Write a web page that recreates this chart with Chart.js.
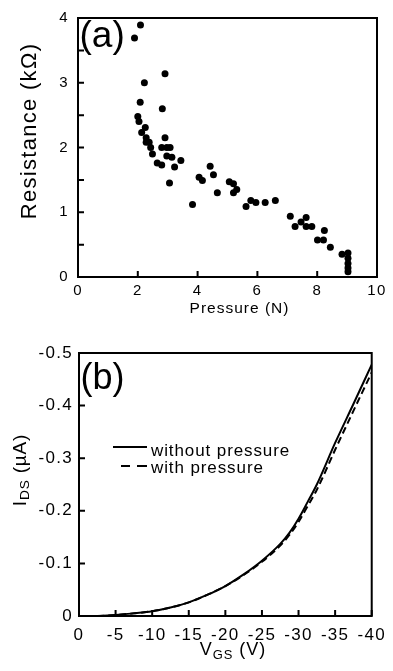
<!DOCTYPE html>
<html><head><meta charset="utf-8">
<script src="https://cdn.jsdelivr.net/npm/chart.js@4.4.1/dist/chart.umd.min.js"></script>
<style>
html,body{margin:0;padding:0;background:#fff;width:393px;height:671px;overflow:hidden;font-family:"Liberation Sans",Arial,Helvetica,sans-serif;color:#000}
.box{position:absolute;left:0;width:393px}
.lbl{position:absolute;white-space:nowrap;line-height:1;color:#000}
.rot{transform:translate(-50%,-50%) rotate(-90deg)}
sub{font-size:0.72em;vertical-align:-0.28em;line-height:0}
</style></head><body>
<div class="box" style="top:0;height:320px"><canvas id="ca"></canvas></div>
<div class="box" style="top:320px;height:351px"><canvas id="cb"></canvas></div>

<div class="lbl" style="left:79.5px;top:16px;font-size:37px">(a)</div>
<div class="lbl rot" style="left:29px;top:131px;font-size:22px;letter-spacing:1.3px">Resistance (kΩ)</div>
<div class="lbl" style="left:239.5px;top:299.5px;font-size:15.5px;letter-spacing:1px;transform:translateX(-50%)">Pressure (N)</div>

<div class="lbl" style="left:80.5px;top:359px;font-size:36px">(b)</div>
<div class="lbl rot" style="left:19px;top:470px;font-size:19px;letter-spacing:0.8px">I<sub>DS</sub> (µA)</div>
<div class="lbl" style="left:233px;top:640px;font-size:18px;letter-spacing:1px;transform:translateX(-50%)">V<sub>GS</sub> (V)</div>

<div style="position:absolute;left:113px;top:446px;width:34px;height:0;border-top:2px solid #000"></div>
<div style="position:absolute;left:120.5px;top:465px;width:9.5px;height:0;border-top:2px solid #000"></div>
<div style="position:absolute;left:136.5px;top:465px;width:10px;height:0;border-top:2px solid #000"></div>
<div class="lbl" style="left:151px;top:441.6px;font-size:17px;letter-spacing:0.9px">without pressure</div>
<div class="lbl" style="left:151px;top:459px;font-size:17px;letter-spacing:0.9px">with pressure</div>

<script>
// ---- (a) Resistance vs pressure ----
const pressureN = [2.09,1.89,2.91,2.22,2.08,2.82,2.00,2.04,2.25,2.13,2.28,2.91,2.38,2.28,2.43,2.49,2.80,2.97,3.08,2.97,3.14,2.65,2.80,3.23,3.44,3.06,3.83,4.05,4.16,4.42,4.53,4.66,5.06,5.20,5.20,5.31,5.62,5.78,5.95,6.26,6.60,7.10,7.26,7.46,7.63,7.63,7.82,8.24,8.01,8.21,8.44,8.83,9.03,9.03,9.03,9.03,9.03];
const resistanceK = [3.89,3.69,3.14,3.00,2.70,2.60,2.48,2.40,2.31,2.23,2.15,2.15,2.08,2.08,2.00,1.90,2.00,2.00,2.00,1.87,1.85,1.76,1.73,1.70,1.80,1.45,1.12,1.54,1.49,1.71,1.58,1.30,1.47,1.44,1.30,1.35,1.09,1.18,1.15,1.15,1.18,0.94,0.78,0.85,0.92,0.78,0.78,0.72,0.57,0.57,0.46,0.35,0.37,0.29,0.21,0.14,0.08];

// ---- (b) transfer curves ----
const vgs = [-2.5,-5,-7.5,-10,-12.5,-15,-17.5,-20,-22.5,-25,-27.5,-28.75,-30,-31.25,-32.5,-35,-37.5,-40];
const idsWithout = [0,-0.002,-0.005,-0.009,-0.016,-0.026,-0.040,-0.057,-0.079,-0.105,-0.137,-0.158,-0.185,-0.217,-0.250,-0.329,-0.403,-0.478];
const idsWith    = [0,-0.002,-0.005,-0.009,-0.016,-0.026,-0.040,-0.057,-0.078,-0.103,-0.134,-0.154,-0.179,-0.209,-0.240,-0.316,-0.390,-0.463];

const seriesLabels = ['without pressure','with pressure'];

Chart.defaults.font.family = '"Liberation Sans", Arial, Helvetica, sans-serif';
Chart.defaults.color = '#000';

const frame = {
  id: 'frame',
  beforeDraw(chart) { chart.ctx.letterSpacing = '1.3px'; },
  afterDraw(chart) {
    const {ctx, chartArea: a, scales: {x, y}} = chart;
    ctx.save();
    ctx.letterSpacing = '0px';
    ctx.strokeStyle = '#000';
    ctx.lineWidth = 2;
    ctx.beginPath();
    x.ticks.forEach(t => { const p = x.getPixelForValue(t.value); ctx.moveTo(p, a.bottom); ctx.lineTo(p, a.bottom - 6); });
    y.ticks.forEach(t => { const p = y.getPixelForValue(t.value); ctx.moveTo(a.left, p); ctx.lineTo(a.left + 6, p); });
    ctx.stroke();
    ctx.strokeRect(a.left, a.top, a.right - a.left, a.bottom - a.top);
    ctx.restore();
  }
};

const noGrid = { display: false, drawTicks: false, tickLength: 0 };

new Chart(document.getElementById('ca'), {
  type: 'scatter',
  data: { datasets: [{
    data: pressureN.map((p, i) => ({x: p, y: resistanceK[i]})),
    backgroundColor: '#000', borderWidth: 0, pointRadius: 3.5, pointHoverRadius: 3.5
  }]},
  options: {
    responsive: true, maintainAspectRatio: false, animation: false,
    layout: { padding: { top: 17, right: 16, left: 0, bottom: 0 } },
    plugins: { legend: { display: false }, tooltip: { enabled: false } },
    scales: {
      x: { type: 'linear', min: 0, max: 10,
        grid: noGrid, border: { display: false },
        ticks: { stepSize: 2, font: { size: 15 }, padding: 5, autoSkip: false, maxRotation: 0 },
        afterFit: s => { s.height = 43; } },
      y: { type: 'linear', min: 0, max: 4,
        grid: noGrid, border: { display: false },
        ticks: { stepSize: 0.5, font: { size: 15 }, padding: 9, autoSkip: false,
          callback: v => Number.isInteger(v) ? String(v) : '' },
        afterFit: s => { s.width = 78; } }
    }
  },
  plugins: [frame]
});

const fmt1 = v => Math.abs(v) < 1e-9 ? '0' : String(+v.toFixed(1));

new Chart(document.getElementById('cb'), {
  type: 'line',
  data: { datasets: [
    { label: seriesLabels[0], data: vgs.map((v, i) => ({x: v, y: idsWithout[i]})),
      borderColor: '#000', borderWidth: 2, pointRadius: 0, cubicInterpolationMode: 'monotone', fill: false },
    { label: seriesLabels[1], data: vgs.map((v, i) => ({x: v, y: idsWith[i]})),
      borderColor: '#000', borderWidth: 2, borderDash: [7, 4], pointRadius: 0, cubicInterpolationMode: 'monotone', fill: false }
  ]},
  options: {
    responsive: true, maintainAspectRatio: false, animation: false,
    layout: { padding: { top: 33, right: 18, left: 0, bottom: 0 } },
    plugins: { legend: { display: false }, tooltip: { enabled: false } },
    scales: {
      x: { type: 'linear', min: -40, max: 0, reverse: true,
        grid: noGrid, border: { display: false },
        ticks: { stepSize: 5, font: { size: 17 }, padding: 9, autoSkip: false, maxRotation: 0, callback: v => fmt1(v) },
        afterFit: s => { s.height = 55; } },
      y: { type: 'linear', min: -0.5, max: 0, reverse: true,
        grid: noGrid, border: { display: false },
        ticks: { stepSize: 0.1, font: { size: 17 }, padding: 6, autoSkip: false, callback: v => fmt1(v) },
        afterFit: s => { s.width = 79; } }
    }
  },
  plugins: [frame]
});
</script>
</body></html>
